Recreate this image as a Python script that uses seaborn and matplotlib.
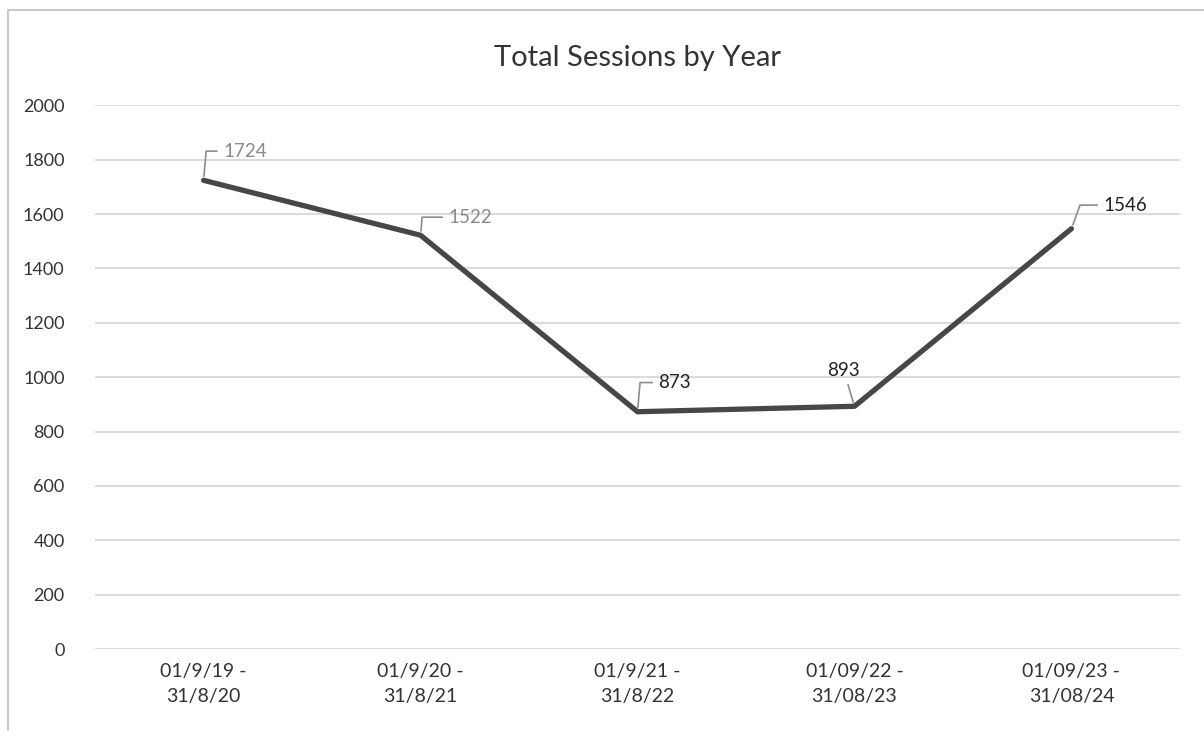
"""
Total sessions by academic year - line chart with labelled points
"""

import pandas as pd
import matplotlib.pyplot as plt
import seaborn as sns
from matplotlib.patches import Rectangle

periods = ["01/9/19 -\n31/8/20", "01/9/20 -\n31/8/21", "01/9/21 -\n31/8/22",
           "01/09/22 -\n31/08/23", "01/09/23 -\n31/08/24"]
sessions = [1724, 1522, 873, 893, 1546]

# label offsets (points) and colours - scan makes the first two look faded
label_offsets = [(14, 21), (20, 13), (15, 21), (4, 26), (23, 17)]
label_colors = ["#8a8a8a", "#8a8a8a", "#222222", "#222222", "#222222"]
label_links = ["angle,angleA=0,angleB=85,rad=0"] * 3 + ["arc3,rad=0"] + \
              ["angle,angleA=0,angleB=70,rad=0"]

df = pd.DataFrame({"period": periods, "sessions": sessions})

sns.set_style("white")
plt.rcParams["font.family"] = ["Lato", "DejaVu Sans"]

fig = plt.figure(figsize=(12.04, 7.31), dpi=100)
ax = fig.add_axes([0.079, 0.112, 0.901, 0.744])

sns.lineplot(data=df, x="period", y="sessions", sort=False, ax=ax,
             color="#474747", linewidth=3.8, zorder=3)

ax.set_ylim(0, 2000)
ax.set_xlim(-0.5, len(periods) - 0.5)
ax.set_yticks(range(0, 2001, 200))
ax.yaxis.grid(True, color="#d4d4d4", linewidth=1.2)
ax.tick_params(axis="y", labelsize=13, colors="#333333", length=0, pad=22)
ax.tick_params(axis="x", labelsize=14, colors="#333333", length=0, pad=10)
for lbl in ax.get_xticklabels():
    lbl.set_linespacing(1.55)
for side in ["top", "right", "left", "bottom"]:
    ax.spines[side].set_visible(False)
ax.set_xlabel("")
ax.set_ylabel("")

for i, (val, off, col, link) in enumerate(zip(sessions, label_offsets,
                                               label_colors, label_links)):
    ax.annotate(str(val), xy=(i, val), xytext=off, textcoords="offset points",
                ha="left" if link.startswith("angle") else "right", va="center",
                fontsize=13.5, color=col,
                arrowprops=dict(arrowstyle="-", color="#8c8c8c", lw=1.2,
                                shrinkA=2, shrinkB=3, connectionstyle=link))

ax.set_title("Total Sessions by Year", fontsize=21, color="#333333", pad=28)

fig.patches.append(Rectangle((0.007, -0.01), 1.0, 0.997, transform=fig.transFigure,
                             fill=False, edgecolor="#bdbdbd", linewidth=1.2))

fig.savefig("out.png", dpi=100)
